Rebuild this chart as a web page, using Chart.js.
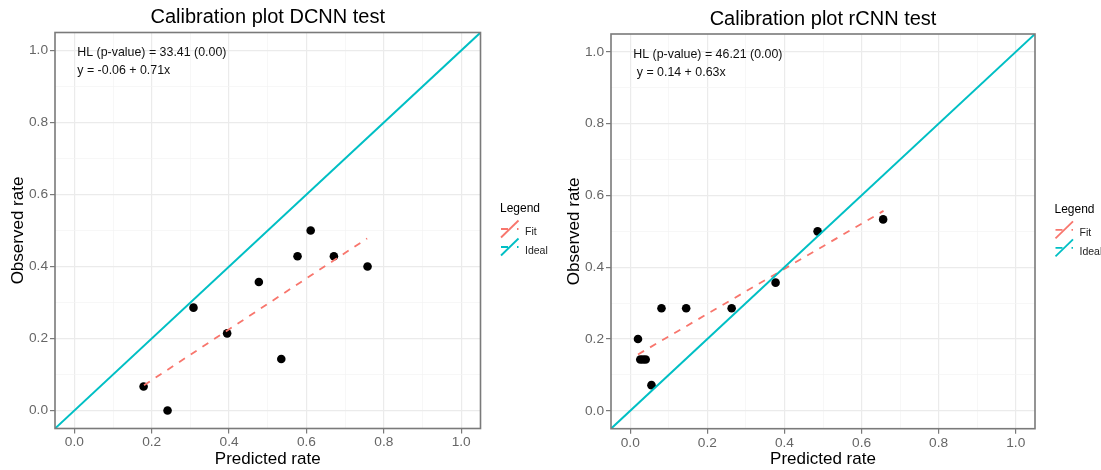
<!DOCTYPE html>
<html>
<head>
<meta charset="utf-8">
<script src="https://cdn.jsdelivr.net/npm/chart.js@4.4.0/dist/chart.umd.min.js"></script>
<style>
html, body { margin: 0; padding: 0; background: #fff; }
#wrap { position: relative; width: 1101px; height: 470px; overflow: hidden; }
canvas { position: absolute; top: 0; }
</style>
</head>
<body>
<div id="wrap">
  <canvas id="dcnn" width="550" height="470" style="left:0px"></canvas>
  <canvas id="rcnn" width="551" height="470" style="left:550px"></canvas>
</div>
<script>
// values
const dcnnPredicted = [0.179, 0.241, 0.308, 0.395, 0.477, 0.535, 0.577, 0.611, 0.671, 0.758];
const dcnnObserved  = [0.0667, 0.0, 0.2857, 0.2143, 0.3571, 0.1429, 0.4286, 0.5, 0.4286, 0.4];
const dcnnFitX = [0.18, 0.757];
const dcnnFitY = [0.07, 0.478];

const rcnnPredicted = [0.020, 0.026, 0.033, 0.040, 0.055, 0.081, 0.145, 0.263, 0.377, 0.486, 0.656];
const rcnnObserved  = [0.2, 0.1429, 0.1429, 0.1429, 0.0714, 0.2857, 0.2857, 0.2857, 0.3571, 0.5, 0.5333];
const rcnnFitX = [0.02, 0.657];
const rcnnFitY = [0.157, 0.557];

const idealX = [-0.05, 1.05];
const idealY = [-0.05, 1.05];
const axisRange = [-0.05, 1.05];
const majorTicks = [0, 0.2, 0.4, 0.6, 0.8, 1.0];
const minorTicks = [0.1, 0.3, 0.5, 0.7, 0.9];
const legendLabels = ['Fit', 'Ideal'];

const fitColor = '#F8766D';
const idealColor = '#00BFC4';
const FONT = '"Liberation Sans", Arial, sans-serif';

Chart.defaults.font.family = FONT;

const allTicks = majorTicks.concat(minorTicks).sort((a, b) => a - b);
const isMinor = v => minorTicks.includes(v);

// title, HL text, box and legend, drawn by hand like ggplot does
const decor = {
    id: 'decor',
    afterDraw(chart, args, o) {
        const ctx = chart.ctx;
        const ca = chart.chartArea;
        ctx.save();

        ctx.strokeStyle = '#7a7a7a';
        ctx.lineWidth = 1.6;
        ctx.strokeRect(ca.left, ca.top, ca.right - ca.left, ca.bottom - ca.top);

        ctx.fillStyle = '#000';
        ctx.textAlign = 'center';
        ctx.textBaseline = 'alphabetic';
        ctx.font = '20px ' + FONT;
        ctx.fillText(o.title, (ca.left + ca.right) / 2, o.titleBase);

        ctx.textAlign = 'left';
        ctx.font = '12.4px ' + FONT;
        ctx.fillStyle = '#111';
        ctx.fillText(o.hl, ca.left + 22.3, ca.top + 23.5);
        ctx.fillText(o.eq, ca.left + 22.3, ca.top + 41.5);

        // legend
        const cy = (ca.top + ca.bottom) / 2;
        const x0 = ca.right + 19.5;
        ctx.font = '12px ' + FONT;
        ctx.fillStyle = '#000';
        ctx.fillText('Legend', x0, cy - 18.5);
        const cols = [fitColor, idealColor];
        legendLabels.forEach((lab, i) => {
            const ky = cy - 1.5 + 18 * i;
            ctx.strokeStyle = cols[i];
            ctx.lineWidth = 1.8;
            ctx.setLineDash([]);
            ctx.beginPath();
            ctx.moveTo(x0 + 1, ky + 8.5);
            ctx.lineTo(x0 + 18.5, ky - 8.5);
            ctx.stroke();
            ctx.setLineDash([7, 9]);
            ctx.beginPath();
            ctx.moveTo(x0 + 1, ky);
            ctx.lineTo(x0 + 18.5, ky);
            ctx.stroke();
            ctx.setLineDash([]);
            ctx.font = '10.5px ' + FONT;
            ctx.fillStyle = '#222';
            ctx.fillText(lab, x0 + 25, cy + 4.8 + 19 * i);
        });
        ctx.restore();
    }
};

function makeAxis(title, isX, size, titlePad) {
    return {
        type: 'linear',
        position: isX ? 'bottom' : 'left',
        min: axisRange[0],
        max: axisRange[1],
        afterBuildTicks: scale => { scale.ticks = allTicks.map(v => ({ value: v })); },
        afterFit: scale => {
            if (isX) scale.height = size; else scale.width = size;
        },
        ticks: {
            autoSkip: false,
            maxRotation: 0,
            padding: isX ? 1 : 2,
            color: '#666',
            font: { size: 13.7 },
            callback: v => isMinor(v) ? '' : v.toFixed(1)
        },
        grid: {
            color: c => isMinor(c.tick.value) ? '#F3F3F3' : '#EBEBEB',
            lineWidth: c => isMinor(c.tick.value) ? 0.7 : 1.2,
            tickColor: c => isMinor(c.tick.value) ? 'rgba(0,0,0,0)' : '#7a7a7a',
            tickLength: 5,
            tickWidth: 1.2
        },
        border: { display: false },
        title: {
            display: true,
            text: title,
            color: '#000',
            font: { size: 17 },
            padding: { top: titlePad, bottom: 0 }
        }
    };
}

function makeChart(id, o) {
    const points = o.pred.map((x, i) => ({ x: x, y: o.obs[i] }));
    new Chart(document.getElementById(id), {
        type: 'scatter',
        data: {
            datasets: [{
                label: 'Ideal',
                data: idealX.map((x, i) => ({ x: x, y: idealY[i] })),
                showLine: true,
                borderColor: idealColor,
                borderWidth: 2,
                pointRadius: 0,
                order: 0
            }, {
                label: 'Fit',
                data: o.fitX.map((x, i) => ({ x: x, y: o.fitY[i] })),
                showLine: true,
                borderColor: fitColor,
                borderWidth: 1.8,
                borderDash: [7, 7],
                pointRadius: 0,
                order: 0
            }, {
                label: 'obs',
                data: points,
                backgroundColor: '#000',
                borderWidth: 0,
                pointRadius: 4.3,
                order: 1
            }]
        },
        options: {
            responsive: false,
            animation: false,
            devicePixelRatio: 1,
            events: [],
            layout: { padding: { left: 0, right: o.padRight, top: o.padTop, bottom: 0 } },
            scales: {
                x: makeAxis('Predicted rate', true, o.xHeight, 0),
                y: makeAxis('Observed rate', false, o.yWidth, o.yTitlePad)
            },
            plugins: {
                legend: { display: false },
                tooltip: { enabled: false },
                title: { display: false },
                decor: o
            }
        },
        plugins: [decor]
    });
}

makeChart('dcnn', {
    title: 'Calibration plot DCNN test',
    hl: 'HL (p-value) = 33.41 (0.00)',
    eq: 'y = -0.06 + 0.71x',
    pred: dcnnPredicted, obs: dcnnObserved, fitX: dcnnFitX, fitY: dcnnFitY,
    padRight: 69.5, padTop: 32.5, yWidth: 55, xHeight: 41.5, yTitlePad: 8.6, titleBase: 22.5
});

makeChart('rcnn', {
    title: 'Calibration plot rCNN test',
    hl: 'HL (p-value) = 46.21 (0.00)',
    eq: ' y = 0.14 + 0.63x',
    pred: rcnnPredicted, obs: rcnnObserved, fitX: rcnnFitX, fitY: rcnnFitY,
    padRight: 66, padTop: 34, yWidth: 61, xHeight: 41.3, yTitlePad: 14.4, titleBase: 24.5
});
</script>
</body>
</html>
